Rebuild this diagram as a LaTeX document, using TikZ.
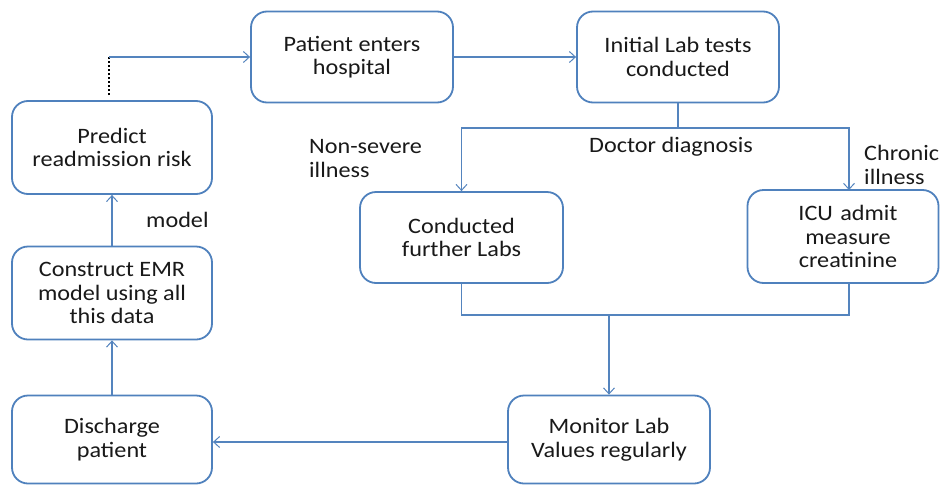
\documentclass[tikz,border=0pt]{standalone}
\usepackage{fontspec}
\setmainfont{Carlito}[FakeStretch=1.1]
\usetikzlibrary{arrows.meta}
\definecolor{boxblue}{RGB}{79,129,189}
\definecolor{lineblue}{RGB}{84,132,190}
\definecolor{txt}{RGB}{25,25,25}
\begin{document}
\begin{tikzpicture}[x=1pt,y=-1pt,
  box/.style={draw=boxblue,line width=1.8pt,rounded corners=16pt,align=center,
    text=txt,font=\fontsize{22}{23.5}\selectfont,inner sep=0pt},
  conn/.style={draw=lineblue,line width=1.2pt},
  arr/.style={-{Straight Barb[length=6pt,width=11pt,line width=1pt]}},
  lbl/.style={text=txt,font=\fontsize{22}{24}\selectfont,inner sep=0pt}]
\useasboundingbox (0,0) rectangle (940,485);
\clip (0,0) rectangle (940,485);
\fill[white] (0,0) rectangle (940,485);

\node[box,minimum width=202pt,minimum height=91pt] (patient) at (352,57) {Patient enters\\hospital};
\node[box,minimum width=202pt,minimum height=91pt] (initial) at (678,57) {Initial Lab tests\\conducted};
\node[box,minimum width=200pt,minimum height=93pt] (predict) at (112,147.5) {Predict\\readmission risk};
\node[box,minimum width=200pt,minimum height=93pt] (construct) at (112,293) {Construct EMR\\model using all\\this data};
\node[box,minimum width=200pt,minimum height=88pt] (discharge) at (112,439.5) {Discharge\\patient};
\node[box,minimum width=202pt,minimum height=88pt] (monitor) at (609,439.5) {Monitor Lab\\Values regularly};
\node[box,minimum width=203pt,minimum height=91pt] (conducted) at (461.5,237.5) {Conducted\\further Labs};
\node[box,minimum width=191pt,minimum height=93pt,text width=191pt] (icu) at (843,236.5) {\hspace*{10pt}ICU admit\\\hspace*{10pt}measure\\\hspace*{10pt}creatinine};

\node[lbl,anchor=west] (lmodel) at (146,220) {model};
\node[lbl,anchor=north west,align=left] (lnon) at (309,139) {Non-severe\\illness};
\node[lbl] (ldoc) at (671,147) {Doctor diagnosis};
\node[lbl,anchor=north west,align=left] (lchr) at (864,145) {Chronic\\illness};

\coordinate (dtop) at (109,57);
\coordinate (dbot) at (109,95);
\draw[black,line width=2pt,dotted] (dbot) -- (dtop);
\draw[conn,arr] (dtop) -- (patient.west);
\draw[conn,arr] (patient.east) -- (initial.west);

\coordinate (split) at (678,128);
\coordinate (icutop) at (849,190);
\coordinate (icubot) at (849,283);
\draw[conn] (initial.south) -- (split);
\draw[conn,arr] (split) -| (conducted.north);
\draw[conn,arr] (split) -| (icutop);

\coordinate (merge) at (609,315);
\draw[conn] (conducted.south) |- (merge);
\draw[conn] (icubot) |- (merge);
\draw[conn,arr] (merge) -- (monitor.north);

\coordinate (mleft) at (508,442);
\draw[conn,arr] (mleft) -- (mleft -| discharge.east);
\draw[conn,arr] (discharge.north) -- (construct.south);
\draw[conn,arr] (construct.north) -- (predict.south);
\end{tikzpicture}
\end{document}
